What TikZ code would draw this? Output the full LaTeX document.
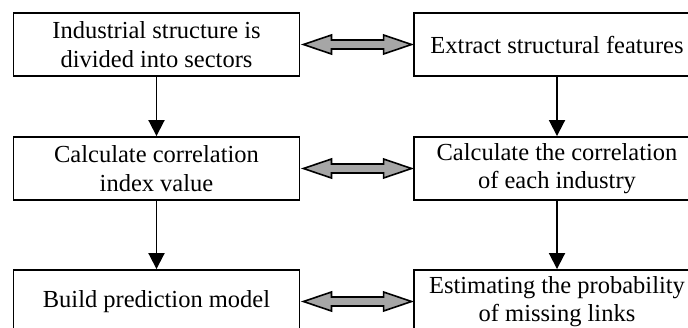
\documentclass[tikz,border=0pt]{standalone}
\usepackage{fontspec}
\setmainfont{Liberation Serif}
\usetikzlibrary{arrows.meta,calc}
\definecolor{arrgray}{RGB}{166,166,166}
\begin{document}
\begin{tikzpicture}[x=1bp,y=-1bp,
  box/.style={draw,line width=1.9bp,minimum width=286bp,minimum height=63bp,inner sep=0pt,
    align=center,font=\fontsize{24.5bp}{28.5bp}\selectfont},
  flow/.style={line width=1.9bp,-{Triangle[length=16bp,width=16bp]}},
  darr/.style={fill=arrgray,draw=black,line width=1.6bp,line join=miter}]
\useasboundingbox (0,0) rectangle (688,327);
\clip (0,0) rectangle (688,327);
\node[box] (a1) at (156.5,44.5) {Industrial structure is\\divided into sectors};
\node[box] (b1) at (557,44.5) {Extract structural features};
\node[box] (a2) at (156.5,168.5) {Calculate correlation\\index value};
\node[box] (b2) at (557,168.5) {Calculate the correlation\\of each industry};
\node[box] (a3) at (156.5,301.5) {Build prediction model};
\node[box] (b3) at (557,301.5) {Estimating the probability\\of missing links};
\draw[flow] (a1.south) -- (a2.north);
\draw[flow] (a2.south) -- (a3.north);
\draw[flow] (b1.south) -- (b2.north);
\draw[flow] (b2.south) -- (b3.north);
\foreach \l/\r in {a1/b1,a2/b2,a3/b3}{
  \path ($(\l.east)+(3,0)$) coordinate (L) ($(\r.west)+(-1.5,0)$) coordinate (R);
  \draw[darr] (L) -- ++(28,-9.5) -- ++(0,5) -- ($(R)+(-28,-4.5)$) -- ++(0,-5) -- (R)
    -- ++(-28,9.5) -- ++(0,-5) -- ($(L)+(28,4.5)$) -- ++(0,5) -- cycle;
}
\end{tikzpicture}
\end{document}
